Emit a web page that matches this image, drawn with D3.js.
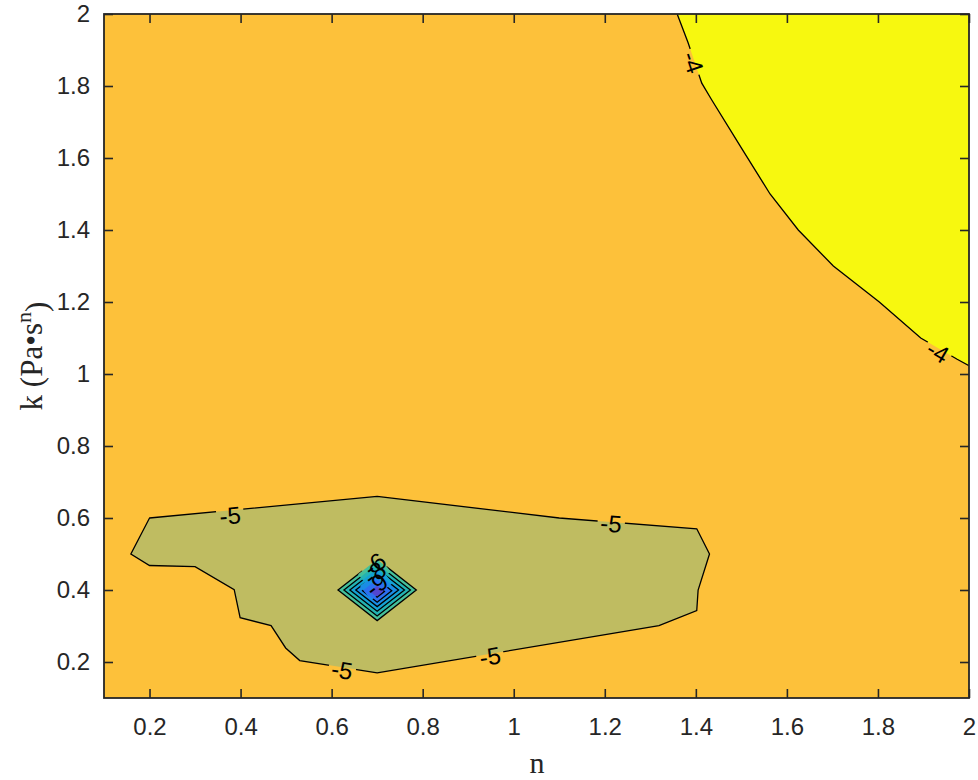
<!DOCTYPE html>
<html>
<head>
<meta charset="utf-8">
<script src="https://cdn.jsdelivr.net/npm/d3@7"></script>
<style>
body { margin: 0; background: #fff; }
svg { display: block; }
</style>
</head>
<body>
<svg width="978" height="780"></svg>
<script>
// tick values on both axes
var nTicks = [0.2, 0.4, 0.6, 0.8, 1, 1.2, 1.4, 1.6, 1.8, 2]
var kTicks = [0.2, 0.4, 0.6, 0.8, 1, 1.2, 1.4, 1.6, 1.8, 2]

// contour lines, points are [n, k]
var line4 = [[1.359, 2.0], [1.383, 1.92], [1.413, 1.808], [1.435, 1.761], [1.503, 1.622],
  [1.563, 1.5], [1.625, 1.4], [1.702, 1.3], [1.803, 1.2], [1.894, 1.1], [1.974, 1.041], [2.0, 1.023]]
var line4Corner = [[2.0, 2.0]]

var line5 = [[0.2, 0.6], [0.7, 0.66], [1.1, 0.6], [1.402, 0.57], [1.43, 0.5], [1.405, 0.4],
  [1.402, 0.343], [1.319, 0.301], [0.7, 0.17], [0.53, 0.204], [0.499, 0.239], [0.467, 0.301],
  [0.399, 0.323], [0.386, 0.401], [0.3, 0.465], [0.2, 0.468], [0.159, 0.5]]

// little diamonds around the minimum at n=0.7, k=0.4
var rings = [
  {level: -6, pts: [[0.614, 0.4], [0.7, 0.485], [0.786, 0.4], [0.7, 0.315]]},
  {level: -7, pts: [[0.627, 0.4], [0.7, 0.472], [0.773, 0.4], [0.7, 0.328]]},
  {level: -8, pts: [[0.640, 0.4], [0.7, 0.459], [0.760, 0.4], [0.7, 0.341]]},
  {level: -9, pts: [[0.653, 0.4], [0.7, 0.446], [0.747, 0.4], [0.7, 0.354]]},
  {level: -10, pts: [[0.668, 0.398], [0.7, 0.43], [0.732, 0.398], [0.7, 0.366]]},
  {level: -11, pts: [[0.684, 0.396], [0.7, 0.412], [0.716, 0.396], [0.7, 0.38]]}
]

var levels = [-4, -5, -6, -7, -8, -9, -10, -11]
var levelColors = ['#f7f80f', '#bfbc61', '#45c09a', '#22b3b3', '#14a1d4', '#1a8ce6', '#2c6ff0', '#5346cf']
var baseColor = '#fdc13a'

// clabel text positions [n, k]
var labels = [
  {text: '-4', at: [1.394, 1.866], on: 'line4'},
  {text: '-4', at: [1.932, 1.062], on: 'line4'},
  {text: '-5', at: [0.377, 0.607], on: 'line5'},
  {text: '-5', at: [1.214, 0.585], on: 'line5'},
  {text: '-5', at: [0.948, 0.216], on: 'line5'},
  {text: '-5', at: [0.623, 0.178], on: 'line5'},
  {text: '-6', at: [0.694, 0.472], on: -6},
  {text: '-8', at: [0.694, 0.447], on: -8},
  {text: '-9', at: [0.698, 0.415], on: -10}
]

var svg = d3.select('svg')
var W = 978, H = 780
var pL = 104, pR = 969, pT = 14, pB = 698

var x = d3.scaleLinear().domain([0.1, 2]).range([pL, pR])
var y = d3.scaleLinear().domain([0.1, 2]).range([pB, pT])
var color = d3.scaleOrdinal().domain(levels).range(levelColors)

var path = d3.line().x(function(d){ return x(d[0]) }).y(function(d){ return y(d[1]) })

var defs = svg.append('defs')
defs.append('clipPath').attr('id', 'plot')
  .append('rect').attr('x', pL).attr('y', pT).attr('width', pR - pL).attr('height', pB - pT)
var mask = defs.append('mask').attr('id', 'gaps').attr('maskUnits', 'userSpaceOnUse')
  .attr('x', 0).attr('y', 0).attr('width', W).attr('height', H)
mask.append('rect').attr('width', W).attr('height', H).attr('fill', 'white')

var plot = svg.append('g').attr('clip-path', 'url(#plot)')

// filled bands
plot.append('rect').attr('x', pL).attr('y', pT).attr('width', pR - pL).attr('height', pB - pT)
  .attr('fill', baseColor)
plot.append('path').attr('d', path(line4.concat(line4Corner)) + 'Z').attr('fill', color(-4))
plot.append('path').attr('d', path(line5) + 'Z').attr('fill', color(-5))
plot.selectAll('.ring').data(rings).enter().append('path')
  .attr('class', 'ring')
  .attr('d', function(d){ return path(d.pts) + 'Z' })
  .attr('fill', function(d){ return color(d.level) })

// contour lines, cut where the labels go
var lines = plot.append('g').attr('mask', 'url(#gaps)')
  .attr('fill', 'none').attr('stroke', '#000').attr('stroke-width', 1.3)
lines.append('path').attr('d', path(line4))
lines.append('path').attr('d', path(line5) + 'Z')
lines.selectAll('.ringline').data(rings).enter().append('path')
  .attr('d', function(d){ return path(d.pts) + 'Z' })

// angle of the nearest bit of contour, so the label lies along it
function lineAngle(p, pts, closed) {
  var px = pts.map(function(d){ return [x(d[0]), y(d[1])] })
  if (closed) px.push(px[0])
  var best = Infinity, ang = 0
  for (var i = 0; i < px.length - 1; i++) {
    var a = px[i], b = px[i + 1]
    var dx = b[0] - a[0], dy = b[1] - a[1]
    var t = ((p[0] - a[0]) * dx + (p[1] - a[1]) * dy) / (dx * dx + dy * dy)
    t = Math.max(0, Math.min(1, t))
    var qx = a[0] + t * dx - p[0], qy = a[1] + t * dy - p[1]
    var dist = qx * qx + qy * qy
    if (dist < best) { best = dist; ang = Math.atan2(dy, dx) * 180 / Math.PI }
  }
  if (ang > 90) ang -= 180
  if (ang <= -90) ang += 180
  return ang
}

var labelG = plot.append('g')
labels.forEach(function(l){
  var p = [x(l.at[0]), y(l.at[1])]
  var ang
  if (l.on == 'line4') ang = lineAngle(p, line4, false)
  else if (l.on == 'line5') ang = lineAngle(p, line5, true)
  else ang = lineAngle(p, rings.filter(function(r){ return r.level == l.on })[0].pts, true)
  var t = labelG.append('text')
    .attr('transform', 'translate(' + p[0] + ',' + p[1] + ') rotate(' + ang + ')')
    .attr('text-anchor', 'middle').attr('dy', '0.36em')
    .style('font-family', '"Liberation Sans", Arial, sans-serif').style('font-size', '24px')
    .attr('fill', '#000')
    .text(l.text)
  var w = t.node().getComputedTextLength() + 6
  mask.append('rect')
    .attr('x', -w / 2).attr('y', -9).attr('width', w).attr('height', 18)
    .attr('transform', 'translate(' + p[0] + ',' + p[1] + ') rotate(' + ang + ')')
    .attr('fill', 'black')
})

// axes
var fmt = function(d){ return String(d) }
var axisFont = '"Liberation Sans", Arial, Helvetica, sans-serif'

svg.append('g').attr('transform', 'translate(0,' + pB + ')')
  .call(d3.axisBottom(x).tickValues(nTicks).tickFormat(fmt).tickSizeInner(-9).tickSizeOuter(0).tickPadding(20))
svg.append('g').attr('transform', 'translate(' + pL + ',0)')
  .call(d3.axisLeft(y).tickValues(kTicks).tickFormat(fmt).tickSizeInner(-9).tickSizeOuter(0).tickPadding(14))
svg.append('g').attr('transform', 'translate(0,' + pT + ')')
  .call(d3.axisTop(x).tickValues(nTicks).tickFormat('').tickSizeInner(-9).tickSizeOuter(0))
svg.append('g').attr('transform', 'translate(' + pR + ',0)')
  .call(d3.axisRight(y).tickValues(kTicks).tickFormat('').tickSizeInner(-9).tickSizeOuter(0))

svg.selectAll('.domain').remove()
svg.selectAll('.tick line').attr('stroke', '#262626').attr('stroke-width', 1.6)
svg.selectAll('.tick text').attr('fill', '#262626')
  .attr('font-family', axisFont).attr('font-size', 24)

svg.append('rect').attr('x', pL).attr('y', pT).attr('width', pR - pL).attr('height', pB - pT)
  .attr('fill', 'none').attr('stroke', '#262626').attr('stroke-width', 1.8)

// axis titles
var serif = '"Liberation Serif", "Times New Roman", serif'
svg.append('text').attr('x', (pL + pR) / 2 + 0.5).attr('y', 773)
  .attr('text-anchor', 'middle')
  .style('font-family', serif).style('font-size', '30px')
  .attr('fill', '#262626').text('n')

var yl = svg.append('text').attr('transform', 'translate(42,356) rotate(-90)')
  .attr('text-anchor', 'middle')
  .style('font-family', serif).style('font-size', '31px')
  .attr('fill', '#262626')
yl.append('tspan').text('k (Pa•s')
yl.append('tspan').attr('dy', '-0.5em').style('font-size', '22px').text('n')
yl.append('tspan').attr('dy', '0.5em').text(')')
</script>
</body>
</html>
